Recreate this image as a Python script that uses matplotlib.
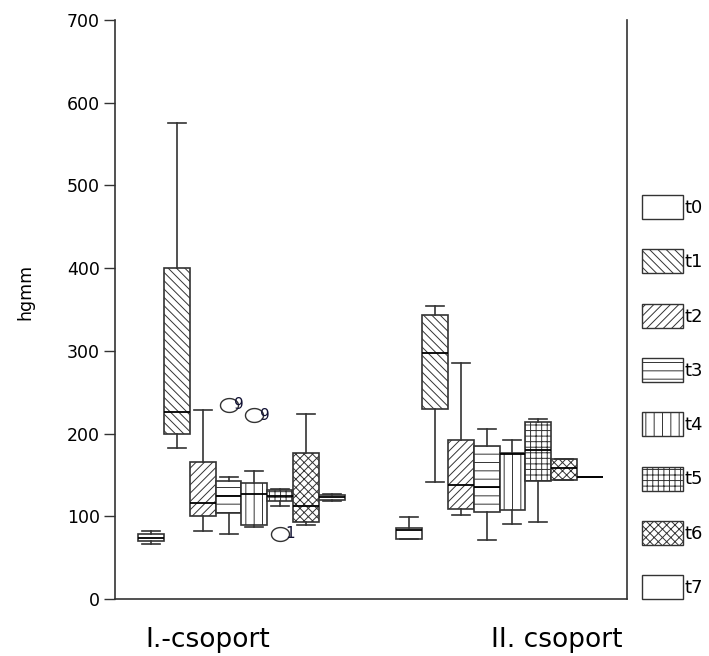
import matplotlib
matplotlib.use("Agg")
import numpy as np
import matplotlib.pyplot as plt
from matplotlib.patches import Patch

# ---------------- data ----------------
groups = ["I.-csoport", "II. csoport"]
series = ["t0", "t1", "t2", "t3", "t4", "t5", "t6", "t7"]

# five-number summaries, group I
whislo_I = [67, 183, 82, 78, 87, 112, 89, 119]
q1_I     = [70, 200, 100, 104, 89, 118, 93, 120]
med_I    = [74, 226, 116, 124, 127, 125, 112, 123]
q3_I     = [78, 400, 166, 143, 140, 132, 176, 126]
whishi_I = [82, 576, 229, 148, 155, 133, 224, 127]

# five-number summaries, group II
whislo_II = [73, 141, 102, 71, 91, 93, 144, 148]
q1_II     = [73, 230, 109, 105, 108, 143, 144, 148]
med_II    = [84, 297, 138, 135, 175, 180, 158, 148]
q3_II     = [86, 343, 192, 185, 177, 214, 169, 148]
whishi_II = [99, 354, 285, 205, 192, 218, 169, 148]

# outliers (group I)
outlier_series = ["t3", "t4", "t5"]
outlier_values = [235, 222, 79]
outlier_labels = ["9", "9", "1"]

yticks = [0, 100, 200, 300, 400, 500, 600, 700]

hatches = ["", "\\\\\\\\", "////", "--", "||", "+++", "xxxx", ""]

# ---------------- style ----------------
plt.rcParams["font.family"] = ["DejaVu Sans"]
plt.rcParams["hatch.linewidth"] = 0.7
plt.rcParams["hatch.color"] = "black"
edge = "#333333"

fig = plt.figure(figsize=(7.09, 6.56), dpi=100)
ax = fig.add_axes([115 / 709, 57 / 656, (627 - 115) / 709, (599 - 20) / 656])

width = 0.1
group_pos = [1, 2]
data_sets = [
    (whislo_I, q1_I, med_I, q3_I, whishi_I),
    (whislo_II, q1_II, med_II, q3_II, whishi_II),
]

for g, (lo, q1, md, q3, hi) in zip(group_pos, data_sets):
    stats = []
    positions = []
    for i, s in enumerate(series):
        stats.append(dict(whislo=lo[i], q1=q1[i], med=md[i], q3=q3[i],
                          whishi=hi[i], fliers=[]))
        positions.append(g + (i - 3.5) * width)
    bp = ax.bxp(stats, positions=positions, widths=width, patch_artist=True,
                showfliers=False, capwidths=0.07,
                boxprops=dict(facecolor="white", edgecolor=edge, linewidth=1.2),
                whiskerprops=dict(color=edge, linewidth=1.2),
                capprops=dict(color=edge, linewidth=1.2),
                medianprops=dict(color="black", linewidth=1.3))
    for patch, h in zip(bp["boxes"], hatches):
        patch.set_hatch(h)

# outliers (ellipse-shaped open markers)
_t = np.linspace(0, 2 * np.pi, 40)
ellipse_marker = np.column_stack([1.3 * np.cos(_t), np.sin(_t)])
for s, v, lab in zip(outlier_series, outlier_values, outlier_labels):
    x = group_pos[0] + (series.index(s) - 3.5) * width
    ax.plot([x], [v], marker=ellipse_marker, markersize=13, markerfacecolor="none",
            markeredgecolor=edge, markeredgewidth=1.0, linestyle="none")
    ax.annotate(lab, (x, v), xytext=(4, 0), textcoords="offset points",
                ha="left", va="center", fontsize=11, color="#111133")

ax.set_xlim(0.51, 2.494)
ax.set_ylim(0, 700)
ax.set_yticks(yticks)
ax.set_yticklabels([str(t) for t in yticks], fontsize=12.5)
ax.tick_params(axis="y", length=8, width=1, color=edge, pad=3)
ax.set_xticks([])
for sp in ["left", "bottom", "right"]:
    ax.spines[sp].set_color(edge)
    ax.spines[sp].set_linewidth(1.2)
ax.spines["top"].set_visible(False)

fig.text(25 / 709, 1 - 292 / 656, "hgmm", rotation=90, fontsize=12.5,
         ha="center", va="center")

fig.text(208 / 709, 1 - 640 / 656, groups[0], fontsize=19, ha="center", va="center")
fig.text(557 / 709, 1 - 640 / 656, groups[1], fontsize=19, ha="center", va="center")

# legend
handles = [Patch(facecolor="white", edgecolor=edge, hatch=h, linewidth=1.0)
           for h in hatches]
fs = 13
leg = fig.legend(handles, series, loc="upper left",
                 bbox_to_anchor=(642 / 709, 1 - 195 / 656),
                 frameon=False, fontsize=fs, borderpad=0, borderaxespad=0,
                 handlelength=2.27, handleheight=1.667,
                 handletextpad=0.1, labelspacing=1.68)

fig.savefig("out.png", dpi=100)
